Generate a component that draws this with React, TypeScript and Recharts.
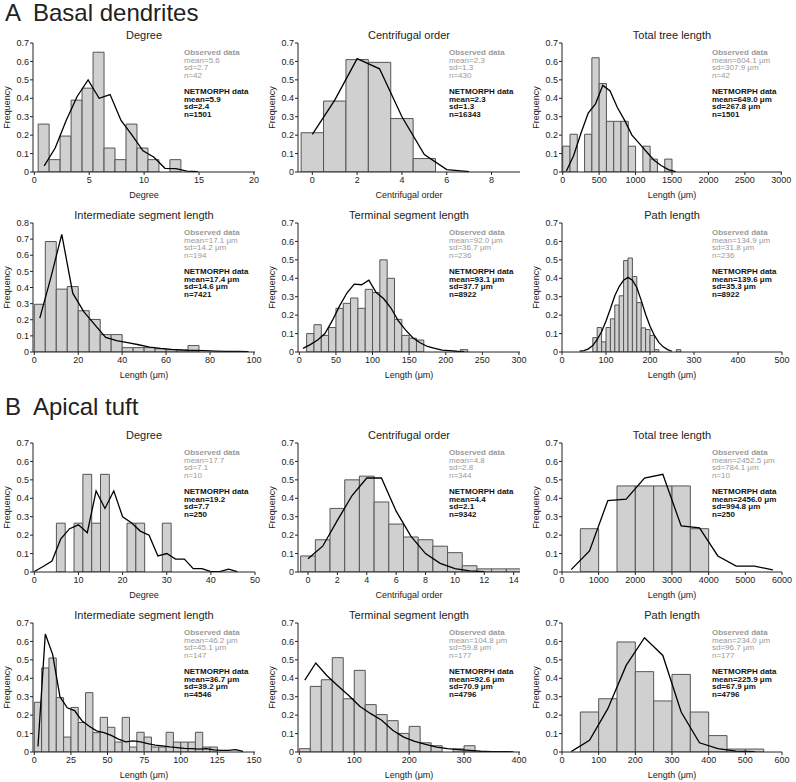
import React from 'react';
import { ComposedChart, Line, XAxis, YAxis, ReferenceArea } from 'recharts';

// ---------- A: Basal dendrites ----------
// Degree
const aDegreeTicks = [0, 5, 10, 15, 20];
const aDegreeBinLo = [0.35, 1.35, 2.35, 3.35, 4.35, 5.35, 6.35, 7.35, 8.35, 9.35, 10.35, 12.35];
const aDegreeObs = [0.26, 0.067, 0.195, 0.39, 0.455, 0.65, 0.13, 0.067, 0.26, 0.13, 0.067, 0.067];
const aDegreeNetX = [0.9, 1.9, 2.9, 3.9, 4.9, 5.9, 6.9, 7.9, 8.9, 9.9, 10.9, 11.9, 12.9, 13.9, 14.9];
const aDegreeNetY = [0.033, 0.13, 0.28, 0.41, 0.5, 0.4, 0.42, 0.28, 0.2, 0.115, 0.08, 0.02, 0.018, 0.005, 0.002];

// Centrifugal order
const aOrderTicks = [0, 2, 4, 6, 8];
const aOrderBinLo = [-0.5, 0.5, 1.5, 2.5, 3.5, 4.5];
const aOrderObs = [0.213, 0.385, 0.61, 0.595, 0.29, 0.073];
const aOrderNetX = [0, 1, 2, 3, 4, 5, 6, 7];
const aOrderNetY = [0.204, 0.39, 0.615, 0.56, 0.3, 0.095, 0.013, 0.002];

// Total tree length
const aTotalTicks = [0, 500, 1000, 1500, 2000, 2500, 3000];
const aTotalBinLo = [0, 100, 300, 400, 500, 600, 700, 800, 900, 1100, 1200, 1400];
const aTotalObs = [0.14, 0.205, 0.205, 0.62, 0.48, 0.275, 0.275, 0.275, 0.14, 0.14, 0.07, 0.07];
const aTotalNetX = [50, 150, 250, 350, 450, 550, 650, 750, 850, 950, 1050, 1150, 1250, 1350, 1450, 1550];
const aTotalNetY = [0.005, 0.09, 0.21, 0.32, 0.37, 0.47, 0.44, 0.35, 0.28, 0.2, 0.155, 0.11, 0.065, 0.035, 0.013, 0.002];

// Intermediate segment length
const aInterTicks = [0, 20, 40, 60, 80, 100];
const aInterBinLo = [0, 5, 10, 15, 20, 25, 30, 35, 40, 45, 50, 55, 60, 65, 70];
const aInterObs = [0.296, 0.685, 0.39, 0.406, 0.256, 0.202, 0.108, 0.108, 0.027, 0.027, 0.027, 0.02, 0.014, 0.014, 0.04];
const aInterNetX = [2.5, 7.5, 12.5, 17.5, 22.5, 27.5, 32.5, 37.5, 42.5, 47.5, 52.5, 57.5, 62.5, 67.5, 72.5, 77.5, 82.5, 87.5, 92.5, 97.5];
const aInterNetY = [0.21, 0.46, 0.73, 0.365, 0.25, 0.17, 0.09, 0.07, 0.058, 0.045, 0.03, 0.022, 0.016, 0.012, 0.01, 0.008, 0.006, 0.004, 0.003, 0.002];

// Terminal segment length
const aTermTicks = [0, 50, 100, 150, 200, 250, 300];
const aTermBinLo = [10, 20, 30, 40, 50, 60, 70, 80, 90, 100, 110, 120, 130, 140, 150, 160, 220];
const aTermObs = [0.1, 0.148, 0.09, 0.133, 0.237, 0.264, 0.293, 0.237, 0.34, 0.323, 0.5, 0.4, 0.177, 0.09, 0.075, 0.065, 0.013];
const aTermNetX = [5, 15, 25, 35, 45, 55, 65, 75, 85, 95, 105, 115, 125, 135, 145, 155, 165, 175, 185, 195, 205, 215, 225];
const aTermNetY = [0.02, 0.04, 0.065, 0.1, 0.17, 0.25, 0.32, 0.368, 0.365, 0.39, 0.323, 0.29, 0.24, 0.17, 0.12, 0.077, 0.05, 0.03, 0.02, 0.01, 0.007, 0.004, 0.002];

// Path length
const aPathTicks = [0, 100, 200, 300, 400, 500];
const aPathBinLo = [70, 80, 90, 100, 110, 120, 130, 140, 150, 160, 170, 180, 190, 200, 210, 260];
const aPathObs = [0.078, 0.133, 0.055, 0.133, 0.18, 0.255, 0.305, 0.496, 0.51, 0.41, 0.268, 0.131, 0.122, 0.09, 0.013, 0.013];
const aPathNetX = [40, 50, 60, 70, 80, 90, 100, 110, 120, 130, 140, 150, 160, 170, 180, 190, 200, 210, 220, 230, 240, 250];
const aPathNetY = [0.005, 0.008, 0.017, 0.035, 0.068, 0.11, 0.168, 0.235, 0.305, 0.355, 0.39, 0.405, 0.39, 0.35, 0.28, 0.205, 0.14, 0.09, 0.052, 0.028, 0.013, 0.004];

// ---------- B: Apical tuft ----------
const bDegreeTicks = [0, 10, 20, 30, 40, 50];
const bDegreeBinLo = [5, 9, 11, 13, 15, 21, 23, 29];
const bDegreeObs = [0.265, 0.265, 0.53, 0.265, 0.53, 0.265, 0.265, 0.265];
const bDegreeNetX = [0, 2, 4, 6, 8, 10, 12, 14, 16, 18, 20, 22, 24, 26, 28, 30, 32, 34, 36, 38, 40, 42, 44, 46];
const bDegreeNetY = [0.003, 0.03, 0.06, 0.18, 0.235, 0.256, 0.213, 0.44, 0.345, 0.44, 0.3, 0.267, 0.222, 0.2, 0.087, 0.1, 0.07, 0.07, 0.018, 0.018, 0.002, 0.002, 0.015, 0.002];

const bOrderTicks = [0, 2, 4, 6, 8, 10, 12, 14];
const bOrderBinLo = [-0.5, 0.5, 1.5, 2.5, 3.5, 4.5, 5.5, 6.5, 7.5, 8.5, 9.5, 10.5, 11.5, 12.5, 13.5];
const bOrderObs = [0.087, 0.175, 0.345, 0.5, 0.52, 0.38, 0.26, 0.19, 0.175, 0.14, 0.105, 0.034, 0.017, 0.017, 0.017];
const bOrderNetX = [0, 1, 2, 3, 4, 5, 6, 7, 8, 9, 10, 11, 12];
const bOrderNetY = [0.072, 0.14, 0.28, 0.415, 0.51, 0.51, 0.33, 0.195, 0.1, 0.047, 0.018, 0.006, 0.002];

const bTotalTicks = [0, 1000, 2000, 3000, 4000, 5000, 6000];
const bTotalBinLo = [500, 1500, 2000, 2500, 3000, 3500];
const bTotalObs = [0.235, 0.467, 0.467, 0.467, 0.467, 0.235];
const bTotalNetX = [250, 750, 1250, 1750, 2250, 2750, 3250, 3750, 4250, 4750, 5250, 5750];
const bTotalNetY = [0.013, 0.114, 0.388, 0.395, 0.51, 0.53, 0.25, 0.24, 0.087, 0.032, 0.032, 0.011];

const bInterTicks = [0, 25, 50, 75, 100, 125, 150];
const bInterBinLo = [0, 5, 10, 15, 20, 25, 30, 35, 40, 45, 50, 55, 60, 65, 70, 75, 80, 85, 90, 95, 100, 105, 110, 115, 120];
const bInterObs = [0.27, 0.456, 0.51, 0.295, 0.081, 0.242, 0.16, 0.322, 0.105, 0.188, 0.134, 0.054, 0.188, 0.027, 0.107, 0.081, 0.027, 0.027, 0.107, 0.054, 0.054, 0.054, 0.107, 0.027, 0.027];
const bInterNetX = [2.5, 7.5, 12.5, 17.5, 22.5, 27.5, 32.5, 37.5, 42.5, 47.5, 52.5, 57.5, 62.5, 67.5, 72.5, 77.5, 82.5, 87.5, 92.5, 97.5, 102.5, 107.5, 112.5, 117.5, 122.5, 127.5, 132.5, 137.5, 142.5];
const bInterNetY = [0.03, 0.64, 0.53, 0.3, 0.24, 0.225, 0.17, 0.14, 0.115, 0.105, 0.09, 0.07, 0.055, 0.06, 0.055, 0.045, 0.037, 0.033, 0.028, 0.024, 0.02, 0.018, 0.016, 0.018, 0.012, 0.009, 0.009, 0.013, 0.003];

const bTermTicks = [0, 100, 200, 300, 400];
const bTermBinLo = [0, 20, 40, 60, 80, 100, 120, 140, 160, 180, 200, 220, 240, 280, 300];
const bTermObs = [0.018, 0.356, 0.392, 0.512, 0.289, 0.443, 0.257, 0.203, 0.17, 0.101, 0.139, 0.05, 0.034, 0.017, 0.034];
const bTermNetX = [10, 30, 50, 70, 90, 110, 130, 150, 170, 190, 210, 230, 250, 270, 290, 310, 330, 350, 370, 390];
const bTermNetY = [0.39, 0.483, 0.415, 0.36, 0.307, 0.248, 0.208, 0.172, 0.118, 0.081, 0.058, 0.042, 0.027, 0.018, 0.013, 0.009, 0.004, 0.002, 0.002, 0.001];

const bPathTicks = [0, 100, 200, 300, 400, 500, 600];
const bPathBinLo = [50, 100, 150, 200, 250, 300, 350, 400, 450, 500];
const bPathObs = [0.217, 0.289, 0.597, 0.436, 0.277, 0.421, 0.217, 0.089, 0.016, 0.016];
const bPathNetX = [25, 75, 125, 175, 225, 275, 325, 375, 425, 475, 525];
const bPathNetY = [0.002, 0.063, 0.235, 0.47, 0.62, 0.524, 0.217, 0.05, 0.018, 0.005, 0.002];

const yTicks07 = [0, 0.1, 0.2, 0.3, 0.4, 0.5, 0.6, 0.7];
const yTicks08 = [0, 0.1, 0.2, 0.3, 0.4, 0.5, 0.6, 0.7, 0.8];

const LENGTH_LABEL = 'Length (μm)';

const panels = [
  { col: 0, row: 0, title: 'Degree', xLabel: 'Degree', xDomain: [-0.12, 20.1], xTicks: aDegreeTicks, yTicks: yTicks07, binLo: aDegreeBinLo, binW: 1, obs: aDegreeObs, netX: aDegreeNetX, netY: aDegreeNetY,
    obsStats: ['mean=5.6', 'sd=2.7', 'n=42'], netStats: ['mean=5.9', 'sd=2.4', 'n=1501'] },
  { col: 1, row: 0, title: 'Centrifugal order', xLabel: 'Centrifugal order', xDomain: [-0.64, 9.27], xTicks: aOrderTicks, yTicks: yTicks07, binLo: aOrderBinLo, binW: 1, obs: aOrderObs, netX: aOrderNetX, netY: aOrderNetY,
    obsStats: ['mean=2.3', 'sd=1.3', 'n=430'], netStats: ['mean=2.3', 'sd=1.3', 'n=16343'] },
  { col: 2, row: 0, title: 'Total tree length', xLabel: LENGTH_LABEL, xDomain: [-10, 3010], xTicks: aTotalTicks, yTicks: yTicks07, binLo: aTotalBinLo, binW: 100, obs: aTotalObs, netX: aTotalNetX, netY: aTotalNetY,
    obsStats: ['mean=604.1 μm', 'sd=307.9 μm', 'n=42'], netStats: ['mean=649.0 μm', 'sd=267.8 μm', 'n=1501'] },
  { col: 0, row: 1, title: 'Intermediate segment length', xLabel: LENGTH_LABEL, xDomain: [-0.6, 100.5], xTicks: aInterTicks, yTicks: yTicks08, binLo: aInterBinLo, binW: 5, obs: aInterObs, netX: aInterNetX, netY: aInterNetY,
    obsStats: ['mean=17.1 μm', 'sd=14.2 μm', 'n=194'], netStats: ['mean=17.4 μm', 'sd=14.6 μm', 'n=7421'] },
  { col: 1, row: 1, title: 'Terminal segment length', xLabel: LENGTH_LABEL, xDomain: [-1.8, 301.4], xTicks: aTermTicks, yTicks: yTicks07, binLo: aTermBinLo, binW: 10, obs: aTermObs, netX: aTermNetX, netY: aTermNetY,
    obsStats: ['mean=92.0 μm', 'sd=36.7 μm', 'n=236'], netStats: ['mean=93.1 μm', 'sd=37.7 μm', 'n=8922'] },
  { col: 2, row: 1, title: 'Path length', xLabel: LENGTH_LABEL, xDomain: [0, 500], xTicks: aPathTicks, yTicks: yTicks07, binLo: aPathBinLo, binW: 10, obs: aPathObs, netX: aPathNetX, netY: aPathNetY,
    obsStats: ['mean=134.9 μm', 'sd=31.8 μm', 'n=236'], netStats: ['mean=139.6 μm', 'sd=35.3 μm', 'n=8922'] },
  { col: 0, row: 2, title: 'Degree', xLabel: 'Degree', xDomain: [-0.3, 50], xTicks: bDegreeTicks, yTicks: yTicks07, binLo: bDegreeBinLo, binW: 2, obs: bDegreeObs, netX: bDegreeNetX, netY: bDegreeNetY,
    obsStats: ['mean=17.7', 'sd=7.1', 'n=10'], netStats: ['mean=19.2', 'sd=7.7', 'n=250'] },
  { col: 1, row: 2, title: 'Centrifugal order', xLabel: 'Centrifugal order', xDomain: [-0.68, 14.43], xTicks: bOrderTicks, yTicks: yTicks07, binLo: bOrderBinLo, binW: 1, obs: bOrderObs, netX: bOrderNetX, netY: bOrderNetY,
    obsStats: ['mean=4.8', 'sd=2.8', 'n=344'], netStats: ['mean=4.4', 'sd=2.1', 'n=9342'] },
  { col: 2, row: 2, title: 'Total tree length', xLabel: LENGTH_LABEL, xDomain: [0, 6000], xTicks: bTotalTicks, yTicks: yTicks07, binLo: bTotalBinLo, binW: 500, obs: bTotalObs, netX: bTotalNetX, netY: bTotalNetY,
    obsStats: ['mean=2452.5 μm', 'sd=784.1 μm', 'n=10'], netStats: ['mean=2456.0 μm', 'sd=994.8 μm', 'n=250'] },
  { col: 0, row: 3, title: 'Intermediate segment length', xLabel: LENGTH_LABEL, xDomain: [-0.9, 150.7], xTicks: bInterTicks, yTicks: yTicks07, binLo: bInterBinLo, binW: 5, obs: bInterObs, netX: bInterNetX, netY: bInterNetY,
    obsStats: ['mean=46.2 μm', 'sd=45.1 μm', 'n=147'], netStats: ['mean=36.7 μm', 'sd=39.2 μm', 'n=4546'] },
  { col: 1, row: 3, title: 'Terminal segment length', xLabel: LENGTH_LABEL, xDomain: [-2.4, 401.8], xTicks: bTermTicks, yTicks: yTicks07, binLo: bTermBinLo, binW: 20, obs: bTermObs, netX: bTermNetX, netY: bTermNetY,
    obsStats: ['mean=104.8 μm', 'sd=59.8 μm', 'n=177'], netStats: ['mean=92.6 μm', 'sd=70.9 μm', 'n=4796'] },
  { col: 2, row: 3, title: 'Path length', xLabel: LENGTH_LABEL, xDomain: [0, 600], xTicks: bPathTicks, yTicks: yTicks07, binLo: bPathBinLo, binW: 50, obs: bPathObs, netX: bPathNetX, netY: bPathNetY,
    obsStats: ['mean=234.0 μm', 'sd=96.7 μm', 'n=177'], netStats: ['mean=225.9 μm', 'sd=67.9 μm', 'n=4796'] },
];

const COL_LEFT = [33, 298, 562];
const COL_W = [222, 222, 220];
const ROW_TOP = [43, 223, 443, 623];
const PLOT_H = 129;
const YAXIS_W = 33;
const XAXIS_H = 28;
const M_TOP = 5;
const M_RIGHT = 13;

const FONT = '"Liberation Sans", Arial, Helvetica, sans-serif';
const AXIS_COLOR = '#222';
const TEXT_COLOR = '#222';

const fmtY = (v: number) => (v === 0 ? '0' : v.toFixed(1));

function Panel({ p }: { p: any }) {
  const left = COL_LEFT[p.col];
  const top = ROW_TOP[p.row];
  const w = COL_W[p.col];
  const data = p.netX.map((x: number, i: number) => ({ x, y: p.netY[i] }));
  const yMax = p.yTicks[p.yTicks.length - 1];
  const statsLeft = left + (p.col === 2 ? 150 : 151);
  return (
    <>
      <div style={{ position: 'absolute', left, top: top - 14, width: w, textAlign: 'center', fontSize: 11, lineHeight: '12px', color: TEXT_COLOR, whiteSpace: 'nowrap' }}>
        {p.title}
      </div>
      <div style={{ position: 'absolute', left: left - YAXIS_W, top: top - M_TOP }}>
        <ComposedChart
          width={YAXIS_W + w + M_RIGHT}
          height={M_TOP + PLOT_H + XAXIS_H}
          data={data}
          margin={{ top: M_TOP, right: M_RIGHT, left: 0, bottom: 0 }}
        >
          <XAxis
            dataKey="x"
            type="number"
            domain={p.xDomain}
            ticks={p.xTicks}
            allowDataOverflow
            interval={0}
            height={XAXIS_H}
            tickSize={3}
            tickMargin={2}
            stroke={AXIS_COLOR}
            tick={{ fontSize: 9, fill: TEXT_COLOR }}
            label={{ value: p.xLabel, position: 'insideBottom', offset: 2, style: { fontSize: 9, fill: TEXT_COLOR } }}
          />
          <XAxis xAxisId="top" orientation="top" type="number" domain={[0, 1]} height={0} tick={false} tickLine={false} stroke={AXIS_COLOR} />
          <YAxis
            type="number"
            domain={[0, yMax]}
            ticks={p.yTicks}
            allowDataOverflow
            interval={0}
            width={YAXIS_W}
            tickSize={3}
            tickMargin={1}
            stroke={AXIS_COLOR}
            tickFormatter={fmtY}
            tick={{ fontSize: 9, fill: TEXT_COLOR }}
            label={{ value: 'Frequency', angle: -90, position: 'insideLeft', offset: 7, style: { fontSize: 9, fill: TEXT_COLOR, textAnchor: 'middle' } }}
          />
          <YAxis yAxisId="right" orientation="right" type="number" domain={[0, 1]} width={0} tick={false} tickLine={false} stroke={AXIS_COLOR} />
          {p.binLo.map((lo: number, i: number) => (
            <ReferenceArea
              key={i}
              x1={lo}
              x2={lo + p.binW}
              y1={0}
              y2={p.obs[i]}
              ifOverflow="hidden"
              fill="#d0d0d0"
              fillOpacity={1}
              stroke="#555"
              strokeWidth={1}
            />
          ))}
          <Line type="linear" dataKey="y" stroke="#000" strokeWidth={1.3} dot={false} activeDot={false} isAnimationActive={false} />
        </ComposedChart>
      </div>
      <div style={{ position: 'absolute', left: statsLeft, top: top + 6, fontSize: 8, lineHeight: '7.7px', color: '#9a9a9a', whiteSpace: 'nowrap' }}>
        <div style={{ fontWeight: 'bold' }}>Observed data</div>
        {p.obsStats.map((s: string, i: number) => <div key={i}>{s}</div>)}
      </div>
      <div style={{ position: 'absolute', left: statsLeft, top: top + 45, fontSize: 8, lineHeight: '7.7px', color: '#111', fontWeight: 'bold', whiteSpace: 'nowrap' }}>
        <div>NETMORPH data</div>
        {p.netStats.map((s: string, i: number) => <div key={i}>{s}</div>)}
      </div>
    </>
  );
}

export default function App() {
  return (
    <div style={{ position: 'absolute', left: 0, top: 0, width: 796, height: 782, background: '#fff', fontFamily: FONT, overflow: 'hidden' }}>
      <div style={{ position: 'absolute', left: 5, top: 1, fontSize: 24, lineHeight: '24px', color: TEXT_COLOR }}>A</div>
      <div style={{ position: 'absolute', left: 33, top: 1, fontSize: 24, lineHeight: '24px', color: TEXT_COLOR }}>Basal dendrites</div>
      <div style={{ position: 'absolute', left: 5, top: 395, fontSize: 24, lineHeight: '24px', color: TEXT_COLOR }}>B</div>
      <div style={{ position: 'absolute', left: 33, top: 395, fontSize: 24, lineHeight: '24px', color: TEXT_COLOR }}>Apical tuft</div>
      {panels.map((p, i) => <Panel key={i} p={p} />)}
    </div>
  );
}
